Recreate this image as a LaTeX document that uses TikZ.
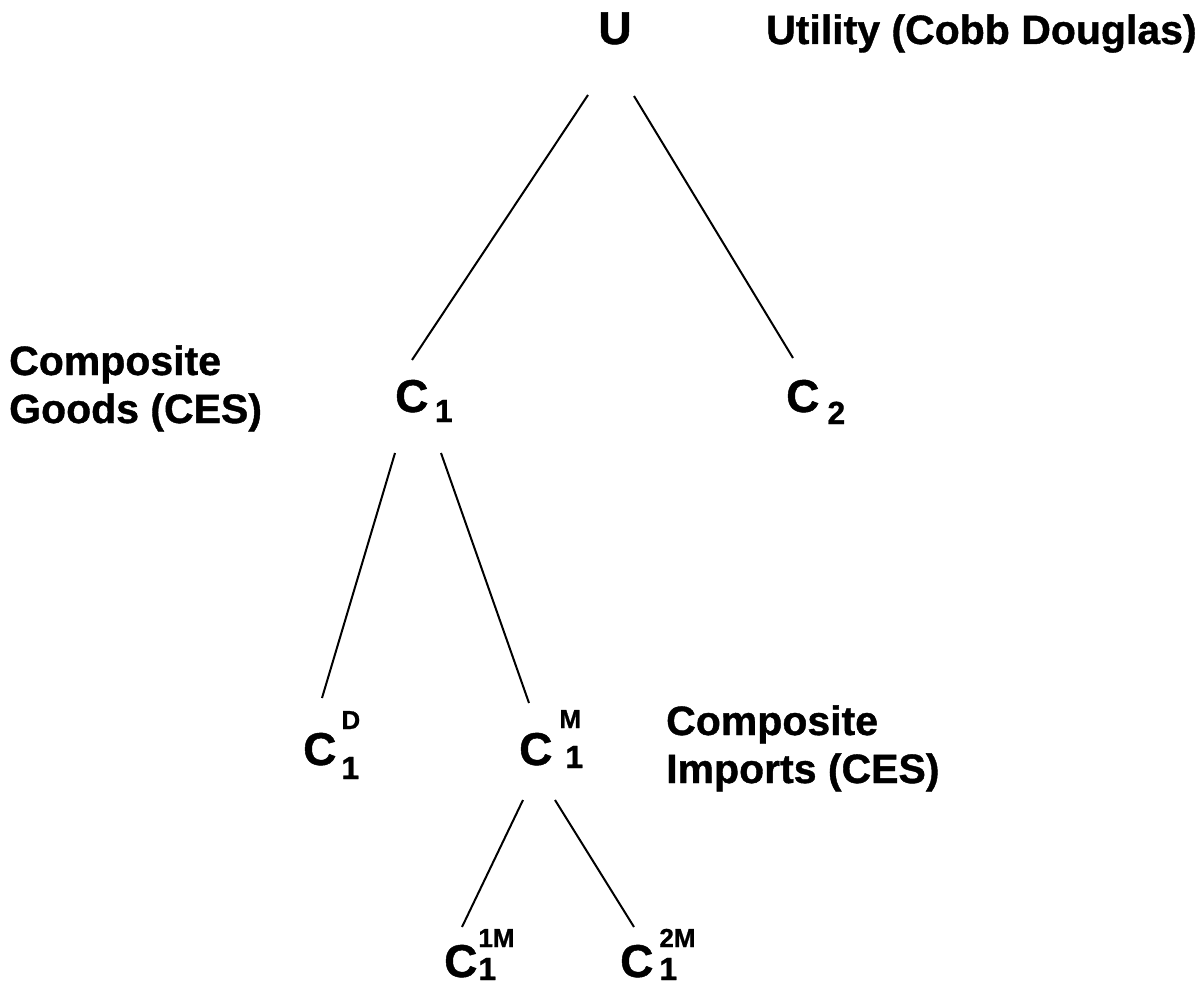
\documentclass[tikz,border=0pt]{standalone}
\usepackage{fontspec}
\setmainfont{Liberation Sans}[BoldFeatures={FakeBold=1}]
\usetikzlibrary{calc}
\tikzset{
  lab/.style={inner sep=0pt, anchor=base west, align=left, font=\bfseries\fontsize{41}{48}\selectfont},
  cl/.style={inner sep=0pt, anchor=base west, font=\bfseries\fontsize{46}{46}\selectfont},
  edge/.style={line width=2pt, line cap=butt}
}
\newcommand{\subT}[1]{{\fontsize{32}{32}\selectfont #1}}
\newcommand{\supT}[1]{{\fontsize{26}{26}\selectfont #1}}
\begin{document}
\begin{tikzpicture}[x=1pt,y=-1pt]
\useasboundingbox (0,0) rectangle (1197,987);
% labels
\node[cl, anchor=base] (u) at (615,44) {U};
\node[lab] (util) at (766,44) {Utility (Cobb Douglas)};
\node[lab] (goods) at (9,423) {Composite\\Goods (CES)};
\node[lab] (imports) at (666,783) {Composite\\Imports (CES)};
\node[cl] (c1) at (395,412) {C\kern6.5pt\raisebox{-10pt}{\subT{1}}};
\node[cl] (c2) at (786,412) {C\kern8pt\raisebox{-12pt}{\subT{2}}};
\node[cl] (c1d) at (303,765) {C\kern5pt\rlap{\raisebox{36pt}{\supT{D}}}\raisebox{-14pt}{\subT{1}}};
\node[cl] (c1m) at (519,765) {C\kern7pt\rlap{\raisebox{37pt}{\supT{M}}}\kern6pt\raisebox{-3pt}{\subT{1}}};
\node[cl] (c11m) at (444,977) {C\kern1pt\rlap{\raisebox{30pt}{\supT{1M}}}\raisebox{-3pt}{\subT{1}}};
\node[cl] (c12m) at (620,977) {C\kern6pt\rlap{\raisebox{30pt}{\supT{2M}}}\raisebox{-3pt}{\subT{1}}};
% connectors
\draw[edge] ($(u.base)+(-27,51)$) -- ($(c1.base west)+(17,-52)$);
\draw[edge] ($(u.base)+(19,52)$) -- ($(c2.base west)+(7,-54)$);
\draw[edge] ($(c1.base west)+(0,41)$) -- ($(c1d.base west)+(19,-67)$);
\draw[edge] ($(c1.base west)+(46,41)$) -- ($(c1m.base west)+(10,-62)$);
\draw[edge] ($(c1m.base west)+(4,35)$) -- ($(c11m.base west)+(18,-50)$);
\draw[edge] ($(c1m.base west)+(36,35)$) -- ($(c12m.base west)+(14,-50)$);
\end{tikzpicture}
\end{document}
